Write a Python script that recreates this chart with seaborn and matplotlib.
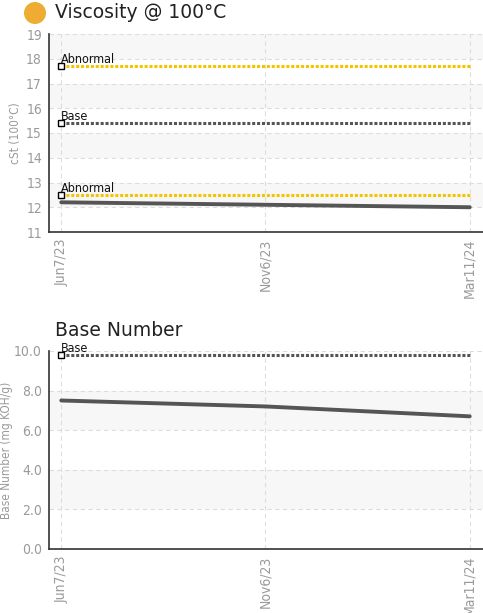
import pandas as pd
import seaborn as sns
import matplotlib.pyplot as plt
from matplotlib.patches import Ellipse

# Data
dates = ['Jun7/23', 'Nov6/23', 'Mar11/24']
viscosity = [12.2, 12.1, 12.0]
visc_abnormal_high = 17.7
visc_base = 15.4
visc_abnormal_low = 12.5
base_number = [7.5, 7.2, 6.7]
bn_base = 9.8

sns.set_style('white')
plt.rcParams['font.family'] = ['DejaVu Sans']
plt.rcParams['font.stretch'] = 'condensed'

TICK_GRAY = '#9a9a9a'
LINE_GRAY = '#555555'
YELLOW = '#f5c400'

fig = plt.figure(figsize=(4.83, 6.13), dpi=100)
ax1 = fig.add_axes([49 / 483, 1 - 232 / 613, 1 - 49 / 483, 198 / 613])
ax2 = fig.add_axes([49 / 483, 1 - 549 / 613, 1 - 49 / 483, 198 / 613])


def style_axis(ax, ylim, yticks, bands, fmt):
    ax.set_xlim(-0.06, 2.065)
    ax.set_ylim(*ylim)
    for lo, hi in bands:
        ax.axhspan(lo, hi, color='#f7f7f7', zorder=0, lw=0)
    ax.set_yticks(yticks)
    ax.set_yticklabels([fmt.format(t) for t in yticks])
    ax.set_xticks(range(len(dates)))
    ax.set_xticklabels(dates, rotation=90)
    ax.grid(True, linestyle=(0, (4, 3)), color='#dddddd', linewidth=0.8)
    ax.set_axisbelow(True)
    for s in ['top', 'right']:
        ax.spines[s].set_visible(False)
    for s in ['left', 'bottom']:
        ax.spines[s].set_color('#333333')
        ax.spines[s].set_linewidth(1.2)
    ax.tick_params(axis='both', direction='inout', length=6, width=1, color='#333333',
                   labelcolor=TICK_GRAY, labelsize=10, pad=2)


def ref_line(ax, y, color, label):
    ax.plot([0, len(dates) - 1], [y, y], color=color, linestyle=(0, (1, 0.6)), linewidth=2.2,
            zorder=3, solid_capstyle='butt')
    ax.plot([0], [y], marker='s', markersize=5, markerfacecolor='white',
            markeredgecolor='black', markeredgewidth=1, zorder=5, clip_on=False)
    ax.text(0, y, label, fontsize=9, color='#111111', ha='left', va='bottom', zorder=6)


# Viscosity panel
df1 = pd.DataFrame({'date': range(len(dates)), 'value': viscosity})
style_axis(ax1, (11, 19), list(range(11, 20)),
           [(18, 19), (16, 17), (14, 15), (12, 13)], '{:d}')
ref_line(ax1, visc_abnormal_high, YELLOW, 'Abnormal')
ref_line(ax1, visc_base, LINE_GRAY, 'Base')
ref_line(ax1, visc_abnormal_low, YELLOW, 'Abnormal')
sns.lineplot(x='date', y='value', data=df1, ax=ax1, color=LINE_GRAY, linewidth=2.8, zorder=4)
ax1.set_xlabel('')
ax1.set_ylabel('cSt (100°C)', color=TICK_GRAY, fontsize=8.5, labelpad=3)

# Base Number panel
df2 = pd.DataFrame({'date': range(len(dates)), 'value': base_number})
style_axis(ax2, (0, 10), [0, 2, 4, 6, 8, 10],
           [(6, 8), (2, 4)], '{:.1f}')
ref_line(ax2, bn_base, LINE_GRAY, 'Base')
sns.lineplot(x='date', y='value', data=df2, ax=ax2, color=LINE_GRAY, linewidth=2.8, zorder=4)
ax2.set_xlabel('')
ax2.set_ylabel('Base Number (mg KOH/g)', color=TICK_GRAY, fontsize=8.5, labelpad=1)

# Titles
fig.add_artist(Ellipse((35 / 483, 1 - 13 / 613), 22 / 483, 22 / 613, transform=fig.transFigure,
                       color='#eeac33', lw=0))
fig.text(55 / 483, 1 - 13 / 613, 'Viscosity @ 100°C', fontsize=13.5, color='#222222',
         va='center', ha='left', stretch='normal')
fig.text(55 / 483, 1 - 331 / 613, 'Base Number', fontsize=13.5, color='#222222',
         va='center', ha='left', stretch='normal')

fig.savefig('out.png', dpi=100)
